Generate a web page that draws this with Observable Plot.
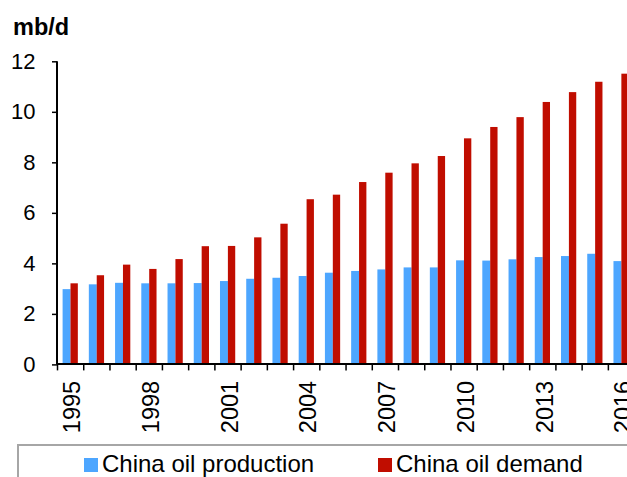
<!DOCTYPE html>
<html>
<head>
<meta charset="utf-8">
<script src="https://cdn.jsdelivr.net/npm/d3@7"></script>
<script src="https://cdn.jsdelivr.net/npm/@observablehq/plot@0.6"></script>
<style>
  html, body { margin: 0; padding: 0; background: #fff; overflow: hidden; }
  #wrap { position: relative; width: 627px; height: 477px; overflow: hidden;
          font-family: "Liberation Sans", Arial, sans-serif; color: #000; }
  #unit { position: absolute; left: 13px; top: 14px; font-weight: bold; font-size: 23.5px; line-height: normal; }
  #chart { position: absolute; left: 0; top: 0; }
  #legend { position: absolute; left: 17px; top: 444px; width: 700px; height: 80px;
            border: 2px solid #a6a6a6; box-sizing: border-box; }
  .sw { position: absolute; width: 14px; height: 14px; top: 458px; }
  .lt { position: absolute; top: 450px; font-size: 24px; line-height: 27px; white-space: nowrap; }
</style>
</head>
<body>
<div id="wrap">
  <div id="unit"></div>
  <div id="chart"></div>
  <div id="legend"></div>
</div>
<script>
const years = ["1995","1996","1997","1998","1999","2000","2001","2002","2003","2004","2005",
               "2006","2007","2008","2009","2010","2011","2012","2013","2014","2015","2016"];
const production = [2.98,3.17,3.23,3.21,3.21,3.22,3.30,3.39,3.43,3.50,3.63,
                    3.70,3.76,3.84,3.84,4.12,4.11,4.16,4.25,4.29,4.38,4.09];
const demand = [3.21,3.53,3.95,3.78,4.17,4.68,4.69,5.03,5.57,6.54,6.72,
                7.22,7.59,7.96,8.25,8.95,9.40,9.79,10.39,10.78,11.19,11.51];
const yTicks = [0,2,4,6,8,10,12];
const xLabels = ["1995","1998","2001","2004","2007","2010","2013","2016"];
const seriesNames = ["China oil production","China oil demand"];
const seriesColors = ["#4da6ff","#c00d00"];
const unitLabel = "mb/d";

const rows = years.map((year, i) => ({year, production: production[i], demand: demand[i]}));
const band = (634.3 - 57.2) / years.length;

const chart = Plot.plot({
  width: 627,
  height: 440,
  marginLeft: 57,
  marginRight: 0,
  marginTop: 0,
  marginBottom: 0,
  style: {fontFamily: '"Liberation Sans", Arial, sans-serif', color: "#000", background: "transparent"},
  x: {type: "band", domain: years, range: [57.2, 634.3], padding: 0, round: false, axis: null},
  y: {domain: [0, 12], range: [364.4, 61.3], axis: null},
  marks: [
    Plot.barY(rows, {x: "year", y: "production", fill: seriesColors[0], insetLeft: 5.4, insetRight: 12.9}),
    Plot.barY(rows, {x: "year", y: "demand", fill: seriesColors[1], insetLeft: 13.3, insetRight: 5.6}),
    Plot.ruleY([0], {stroke: "#000", strokeWidth: 2, dy: -0.9}),
    Plot.ruleX([years[0]], {x: d => d, dx: -band / 2 - 0.7, y1: 0, y2: 12, stroke: "#000", strokeWidth: 2}),
    Plot.ruleX(years, {x: d => d, dx: -band / 2 - 0.2, y1: 0, y2: 0, insetBottom: -6, stroke: "#000", strokeWidth: 1.5}),
    Plot.axisY(yTicks, {tickSize: 5, tickPadding: 17, fontSize: 22, label: null, strokeWidth: 1.5, stroke: "#000", fill: "#000"}),
    Plot.text(xLabels, {x: d => d, y: 0, rotate: -90, textAnchor: "end", lineAnchor: "middle",
                        dy: 16, dx: 2, fontSize: 23.5, fill: "#000"})
  ]
});
document.getElementById("chart").appendChild(chart);
document.getElementById("unit").textContent = unitLabel;

const wrap = document.getElementById("wrap");
const swX = [84, 378], txX = [102, 396];
seriesNames.forEach((name, i) => {
  const sw = document.createElement("div");
  sw.className = "sw";
  sw.style.left = swX[i] + "px";
  sw.style.background = seriesColors[i];
  wrap.appendChild(sw);
  const t = document.createElement("div");
  t.className = "lt";
  t.style.left = txX[i] + "px";
  t.textContent = name;
  wrap.appendChild(t);
});
</script>
</body>
</html>
